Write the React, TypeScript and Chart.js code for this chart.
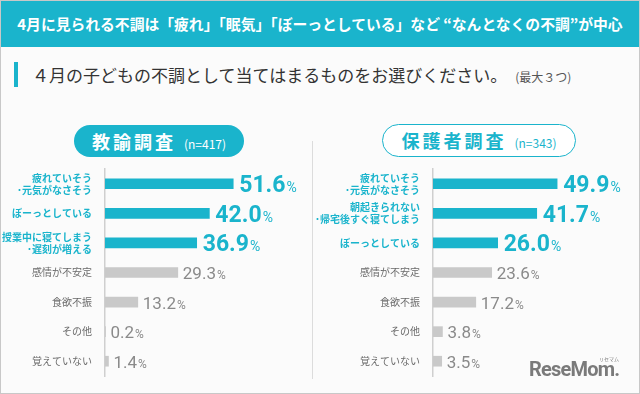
import React, { useEffect, useRef } from "react";
import { Chart, registerables } from "chart.js";

Chart.register(...registerables);

const TEAL = "#1ab4cc";
const GRAY_BAR = "#c9c9c9";
const GRAY_TEXT = "#8a8a8a";
const LABEL_GRAY = "#6a6a6a";

const titleText = "4月に見られる不調は「疲れ」「眠気」「ぼーっとしている」など “なんとなくの不調”が中心";
const questionText = "４月の子どもの不調として当てはまるものをお選びください。";
const questionNote = "(最大３つ)";

const teacherTitle = "教諭調査";
const teacherN = "(n=417)";
const teacherCategories: (string | string[])[] = [
  ["疲れていそう", "･元気がなさそう"],
  "ぼーっとしている",
  ["授業中に寝てしまう", "･遅刻が増える"],
  "感情が不安定",
  "食欲不振",
  "その他",
  "覚えていない",
];
const teacherValues = [51.6, 42.0, 36.9, 29.3, 13.2, 0.2, 1.4];

const parentTitle = "保護者調査";
const parentN = "(n=343)";
const parentCategories: (string | string[])[] = [
  ["疲れていそう", "･元気がなさそう"],
  ["朝起きられない", "･帰宅後すぐ寝てしまう"],
  "ぼーっとしている",
  "感情が不安定",
  "食欲不振",
  "その他",
  "覚えていない",
];
const parentValues = [49.9, 41.7, 26.0, 23.6, 17.2, 3.8, 3.5];

const HIGHLIGHT_COUNT = 3;
const JP = '"Noto Sans CJK JP", "Noto Sans", sans-serif';
const NUM = 'Roboto, "DejaVu Sans", sans-serif';

const valueLabelPlugin = {
  id: "valueLabels",
  afterDatasetsDraw(chart: any) {
    const ctx = chart.ctx;
    const meta = chart.getDatasetMeta(0);
    const data = chart.data.datasets[0].data as number[];
    ctx.save();
    ctx.textAlign = "left";
    ctx.textBaseline = "alphabetic";
    meta.data.forEach((bar: any, i: number) => {
      const v = data[i];
      const num = v.toFixed(1);
      const hi = i < HIGHLIGHT_COUNT;
      const x = bar.x + (hi ? 6 : 5);
      const y = bar.y + (hi ? 8.5 : 6.5);
      ctx.fillStyle = hi ? TEAL : GRAY_TEXT;
      ctx.font = hi ? `bold 23px ${NUM}` : `17px ${NUM}`;
      ctx.fillText(num, x, y);
      const w = ctx.measureText(num).width;
      ctx.font = hi ? `14px ${NUM}` : `12px ${NUM}`;
      ctx.fillText("%", x + w + 1, y);
    });
    ctx.restore();
  },
};

function BarChart(props: {
  labels: (string | string[])[];
  values: number[];
  axisWidth: number;
  max: number;
  width: number;
  height: number;
}) {
  const ref = useRef<HTMLCanvasElement>(null);
  useEffect(() => {
    if (!ref.current) return;
    const chart = new Chart(ref.current, {
      type: "bar",
      data: {
        labels: props.labels as any,
        datasets: [
          {
            data: props.values,
            backgroundColor: props.values.map((_, i) => (i < HIGHLIGHT_COUNT ? TEAL : GRAY_BAR)),
            barThickness: 10,
            borderWidth: 0,
          },
        ],
      },
      options: {
        indexAxis: "y",
        responsive: false,
        animation: false,
        devicePixelRatio: 1,
        layout: { padding: { top: 9, bottom: 10, left: 0, right: 0 } },
        plugins: { legend: { display: false }, tooltip: { enabled: false } },
        scales: {
          x: { display: false, min: 0, max: props.max },
          y: {
            position: "left",
            grid: { display: false, drawTicks: false },
            border: { display: true, color: "#cfcfcf", width: 1.5 },
            ticks: {
              padding: 13,
              color: (c: any) => (c.index < HIGHLIGHT_COUNT ? TEAL : LABEL_GRAY),
              font: (c: any) => ({
                family: JP,
                size: 10,
                weight: c.index < HIGHLIGHT_COUNT ? "bold" : "normal",
                lineHeight: 1.2,
              }),
            },
            afterFit: (s: any) => {
              s.width = props.axisWidth;
              s.paddingTop = 0;
              s.paddingBottom = 0;
            },
          },
        },
      } as any,
      plugins: [valueLabelPlugin],
    });
    return () => chart.destroy();
  }, []);
  return <canvas ref={ref} width={props.width} height={props.height} style={{ display: "block", width: props.width, height: props.height }} />;
}

export default function App() {
  return (
    <div
      style={{
        position: "fixed",
        left: 0,
        top: 0,
        width: 640,
        height: 394,
        boxSizing: "border-box",
        border: "1px solid #c8c8c8",
        background: "#fbfbfb",
        overflow: "hidden",
        fontFamily: JP,
      }}
    >
      <div
        style={{
          position: "absolute",
          left: 0,
          top: 0,
          width: 638,
          height: 46,
          background: TEAL,
          color: "#fff",
          fontWeight: "bold",
          fontSize: 14.8,
          lineHeight: "46px",
          textAlign: "center",
          whiteSpace: "nowrap",
        }}
      >
        {titleText}
      </div>
      <div style={{ position: "absolute", left: 13, top: 61, width: 4, height: 25, background: TEAL }} />
      <div
        style={{
          position: "absolute",
          left: 31,
          top: 61,
          height: 26,
          lineHeight: "26px",
          fontSize: 17,
          color: "#333",
          whiteSpace: "nowrap",
        }}
      >
        {questionText}
        <span style={{ fontSize: 12, color: "#555", marginLeft: 8 }}>{questionNote}</span>
      </div>

      <div
        style={{
          position: "absolute",
          left: 73,
          top: 124,
          width: 170,
          height: 32,
          borderRadius: 16,
          background: TEAL,
          color: "#fff",
          textAlign: "center",
          lineHeight: "32px",
          whiteSpace: "nowrap",
        }}
      >
        <span style={{ fontSize: 18, fontWeight: "bold", letterSpacing: 3 }}>{teacherTitle}</span>
        <span style={{ fontSize: 12, marginLeft: 8 }}>{teacherN}</span>
      </div>

      <div
        style={{
          position: "absolute",
          left: 381,
          top: 123,
          width: 194,
          height: 33,
          boxSizing: "border-box",
          borderRadius: 17,
          border: `1.5px solid ${TEAL}`,
          background: "#fff",
          color: TEAL,
          textAlign: "center",
          lineHeight: "30px",
          whiteSpace: "nowrap",
        }}
      >
        <span style={{ fontSize: 18, fontWeight: "bold", letterSpacing: 3 }}>{parentTitle}</span>
        <span style={{ fontSize: 12, marginLeft: 8 }}>{parentN}</span>
      </div>

      <div style={{ position: "absolute", left: 311, top: 140, width: 1, height: 238, background: "#dcdcdc" }} />

      <div style={{ position: "absolute", left: -1, top: 159 }}>
        <BarChart labels={teacherCategories} values={teacherValues} axisWidth={105} max={83.3} width={312} height={226} />
      </div>
      <div style={{ position: "absolute", left: 311, top: 159 }}>
        <BarChart labels={parentCategories} values={parentValues} axisWidth={121} max={80} width={320} height={226} />
      </div>

      <div
        style={{
          position: "absolute",
          left: 528,
          top: 356,
          fontFamily: NUM,
          fontWeight: "bold",
          fontSize: 20,
          letterSpacing: -0.8,
          color: "#7a7a7a",
          lineHeight: "24px",
          whiteSpace: "nowrap",
        }}
      >
        ReseMom.
      </div>
      <div style={{ position: "absolute", left: 598, top: 355, fontSize: 5, color: "#7a7a7a", lineHeight: "6px" }}>リセマム</div>
    </div>
  );
}
